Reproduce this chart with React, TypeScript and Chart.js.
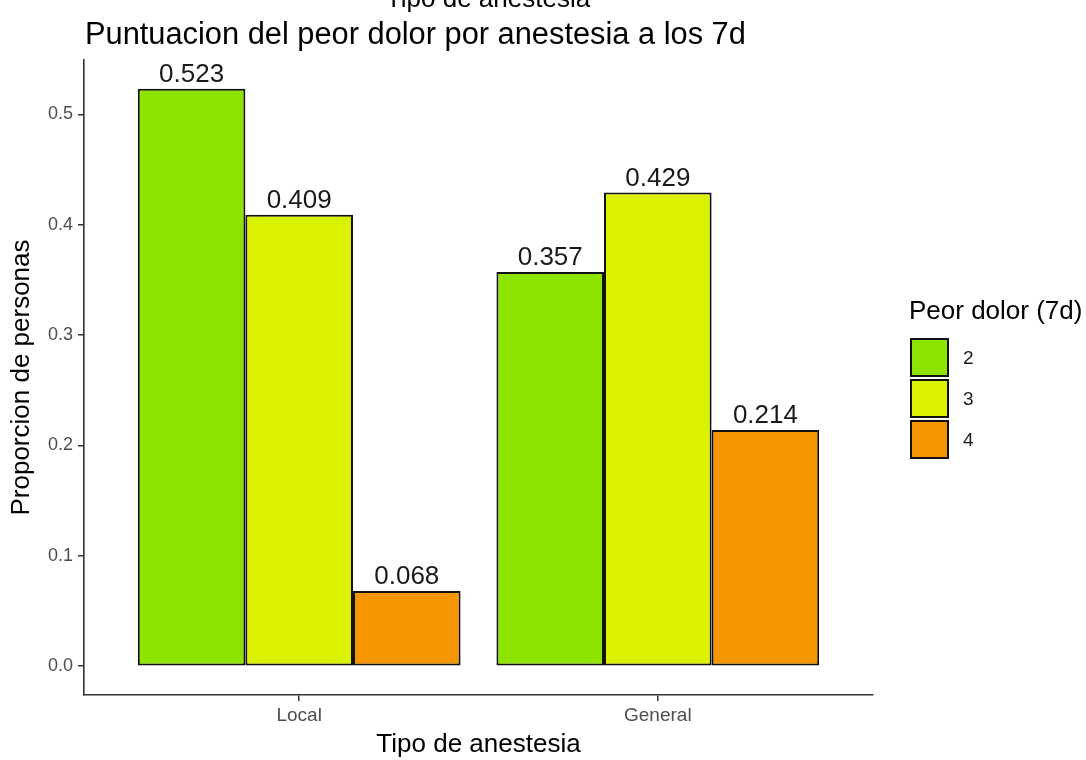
import React, { useEffect, useRef } from 'react';
import { Chart, registerables } from 'chart.js';

Chart.register(...registerables);

const FONT = "'Liberation Sans', Arial, sans-serif";

const categories = ['Local', 'General'];
const categoryPositions = [1, 2];
const painLevels = ['2', '3', '4'];
const level2Values = [0.523, 0.357];
const level3Values = [0.409, 0.429];
const level4Values = [0.068, 0.214];
const yTicks = [0, 0.1, 0.2, 0.3, 0.4, 0.5];
const barColors = ['#8DE400', '#DAF200', '#F59600'];

const topTitle = 'Tipo de anestesia';
const mainTitle = 'Puntuacion del peor dolor por anestesia a los 7d';
const xTitle = 'Tipo de anestesia';
const yTitle = 'Proporcion de personas';
const legendTitle = 'Peor dolor (7d)';

const seriesValues = [level2Values, level3Values, level4Values];

const valueLabelsPlugin = {
  id: 'valueLabels',
  afterDatasetsDraw(chart: any) {
    const ctx = chart.ctx;
    ctx.save();
    ctx.font = `26px ${FONT}`;
    ctx.fillStyle = '#1a1a1a';
    ctx.textAlign = 'center';
    ctx.textBaseline = 'alphabetic';
    chart.data.datasets.forEach((ds: any, di: number) => {
      const meta = chart.getDatasetMeta(di);
      meta.data.forEach((el: any, i: number) => {
        const v = ds.data[i].y;
        ctx.fillText(v.toFixed(3), el.x, el.y - 7);
      });
    });
    ctx.restore();
  },
};

const titlesPlugin = {
  id: 'titlesAndLegend',
  afterDraw(chart: any) {
    const ctx = chart.ctx;
    const area = chart.chartArea;
    ctx.save();
    // top (cut) title
    ctx.fillStyle = '#000000';
    ctx.font = `26px ${FONT}`;
    ctx.textAlign = 'center';
    ctx.textBaseline = 'alphabetic';
    ctx.fillText(topTitle, 488, 7);
    // main title
    ctx.font = `30.8px ${FONT}`;
    ctx.textAlign = 'left';
    ctx.fillText(mainTitle, area.left + 1, 44);

    // legend
    const lx = area.right + 38;
    ctx.font = `26px ${FONT}`;
    ctx.textBaseline = 'middle';
    ctx.fillText(legendTitle, lx - 2, 312);
    const boxSize = 37;
    const startY = 339;
    const step = 41;
    chart.data.datasets.forEach((ds: any, i: number) => {
      const y = startY + i * step;
      ctx.fillStyle = ds.backgroundColor;
      ctx.fillRect(lx, y, boxSize, boxSize);
      ctx.strokeStyle = '#111111';
      ctx.lineWidth = 2;
      ctx.strokeRect(lx, y, boxSize, boxSize);
      ctx.fillStyle = '#1a1a1a';
      ctx.font = `19px ${FONT}`;
      ctx.textAlign = 'left';
      ctx.fillText(ds.label, lx + 52, y + boxSize / 2 + 1);
    });
    ctx.restore();
  },
};

export default function App() {
  const canvasRef = useRef<HTMLCanvasElement | null>(null);

  useEffect(() => {
    if (!canvasRef.current) return;
    const datasets = painLevels.map((lvl, si) => ({
      label: lvl,
      data: categoryPositions.map((x, ci) => ({ x, y: seriesValues[si][ci] })),
      backgroundColor: barColors[si],
      borderColor: '#111111',
      borderWidth: 2,
      borderSkipped: false as any,
      categoryPercentage: 0.9,
      barPercentage: 1.0,
    }));

    const chart = new Chart(canvasRef.current, {
      type: 'bar',
      data: { datasets },
      options: {
        responsive: false,
        animation: false,
        devicePixelRatio: 1,
        layout: { padding: { top: 60, right: 213, left: 0, bottom: 0 } },
        plugins: {
          legend: { display: false },
          title: { display: false },
          tooltip: { enabled: false },
        },
        scales: {
          x: {
            type: 'linear',
            min: 0.4,
            max: 2.6,
            offset: false,
            afterFit(scale: any) {
              scale.height = 65;
            },
            afterBuildTicks(scale: any) {
              scale.ticks = categoryPositions.map((v) => ({ value: v }));
            },
            ticks: {
              autoSkip: false,
              maxRotation: 0,
              padding: 3,
              color: '#4d4d4d',
              font: { family: FONT, size: 19 },
              callback: (v: any) => {
                const idx = categoryPositions.indexOf(Number(v));
                return idx >= 0 ? categories[idx] : '';
              },
            },
            grid: {
              display: true,
              offset: false,
              drawOnChartArea: false,
              drawTicks: true,
              tickLength: 6,
              color: '#333333',
              lineWidth: 1.5,
            },
            border: { display: true, color: '#333333', width: 1.6 },
            title: {
              display: true,
              text: xTitle,
              color: '#000000',
              font: { family: FONT, size: 26 },
              padding: { top: 0, bottom: 0 },
            },
          },
          y: {
            type: 'linear',
            min: -0.02615,
            max: 0.54915,
            afterFit(scale: any) {
              scale.width = 84;
            },
            afterBuildTicks(scale: any) {
              scale.ticks = yTicks.map((v) => ({ value: v }));
            },
            ticks: {
              padding: 5,
              color: '#4d4d4d',
              font: { family: FONT, size: 18 },
              callback: (v: any) => Number(v).toFixed(1),
            },
            grid: {
              display: true,
              drawOnChartArea: false,
              drawTicks: true,
              tickLength: 6,
              color: '#333333',
              lineWidth: 1.5,
            },
            border: { display: true, color: '#333333', width: 1.6 },
            title: {
              display: true,
              text: yTitle,
              color: '#000000',
              font: { family: FONT, size: 26 },
              padding: { top: 6, bottom: 0 },
            },
          },
        },
      },
      plugins: [valueLabelsPlugin, titlesPlugin],
    } as any);

    return () => chart.destroy();
  }, []);

  return (
    <div style={{ position: 'absolute', left: 0, top: 0, width: 1086, height: 760, background: '#ffffff' }}>
      <canvas ref={canvasRef} width={1086} height={760} style={{ display: 'block' }} />
    </div>
  );
}
